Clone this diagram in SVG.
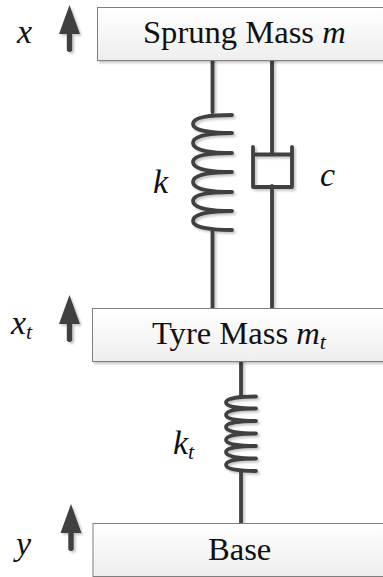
<svg xmlns="http://www.w3.org/2000/svg" width="383" height="577" viewBox="0 0 383 577">
<defs>
<linearGradient id="g" x1="0" y1="0" x2="0" y2="1"><stop offset="0" stop-color="#ffffff"/><stop offset="1" stop-color="#eeeeee"/></linearGradient>
<filter id="s" x="-5%" y="-20%" width="110%" height="140%"><feDropShadow dx="2" dy="2" stdDeviation="1.2" flood-color="#000" flood-opacity="0.22"/></filter>
<path id="arrow" d="M0 0L10.500 29H2.700V45.500Q0 48.500-2.700 45.500V29H-10.500Z"/>
</defs>
<style>
.box{fill:url(#g);stroke:#7f7f7f;stroke-width:1}
.t{font-family:"Liberation Serif","Times New Roman",serif;font-size:32.6px;fill:#111}
.i{font-style:italic}
.v{font-size:34px}
.sub{font-size:22px;font-style:italic}
.w{fill:none;stroke:#404040;stroke-width:3.8;stroke-linecap:round;stroke-linejoin:round}
.a{fill:#404040}
</style>
<g id="connectors" filter="url(#s)">
<path class="w" d="M212.500 60V112M212.500 231V308M272 60V154M272 186V308M241 361V396M241 471V523"/>
<path class="w" d="M232 115C214 115 193 116 193 124C193 131 214 133 232 133C214 133 193 135 193 143C193 151 214 153 232 153C214 153 193 154 193 162C193 170 214 172 232 172C214 172 193 174 193 182C193 190 214 192 232 192C214 192 193 193 193 201C193 209 214 211 232 211C214 211 193 213 193 221C193 228 214 230 232 230"/>
<path class="w" d="M256 396.500C240 396.500 226 398 226 402.500C226 407 240 408.500 256 408.500C240 408.500 226 410 226 415C226 419.500 240 421 256 421C240 421 226 422.500 226 427C226 432 240 433.500 256 433.500C240 433.500 226 435 226 440C226 444.500 240 446 256 446C240 446 226 447.500 226 452C226 457 240 458.500 256 458.500C240 458.500 226 460 226 465C226 469.500 240 471 256 471"/>
<path class="w" d="M253 147V187H292V147M253 154.500H292"/>
</g>
<g id="arrow-x" filter="url(#s)"><use class="a" href="#arrow" x="69.500" y="5"/></g>
<g id="arrow-xt" filter="url(#s)"><use class="a" href="#arrow" x="69.500" y="295"/></g>
<g id="arrow-y" filter="url(#s)"><use class="a" href="#arrow" x="71" y="504"/></g>
<g id="sprung-mass"><rect class="box" x="97.500" y="7.500" width="300" height="53" filter="url(#s)"/><text class="t" x="143" y="43">Sprung Mass <tspan class="i">m</tspan></text></g>
<g id="tyre-mass"><rect class="box" x="92.500" y="308.500" width="300" height="53" filter="url(#s)"/><text class="t" x="152" y="344">Tyre Mass <tspan class="i">m</tspan><tspan class="sub" dy="5">t</tspan></text></g>
<g id="base"><rect class="box" x="93" y="523.500" width="300" height="53" filter="url(#s)"/><text class="t" x="208" y="560">Base</text></g>
<g id="labels">
<text class="t i v" x="17" y="43">x</text>
<text class="t i v" x="11" y="334">x<tspan class="sub" dy="5">t</tspan></text>
<text class="t i v" x="16" y="555">y</text>
<text class="t i v" x="153" y="193">k</text>
<text class="t i v" x="320" y="186">c</text>
<text class="t i v" x="173" y="454">k<tspan class="sub" dy="5">t</tspan></text>
</g>
</svg>
